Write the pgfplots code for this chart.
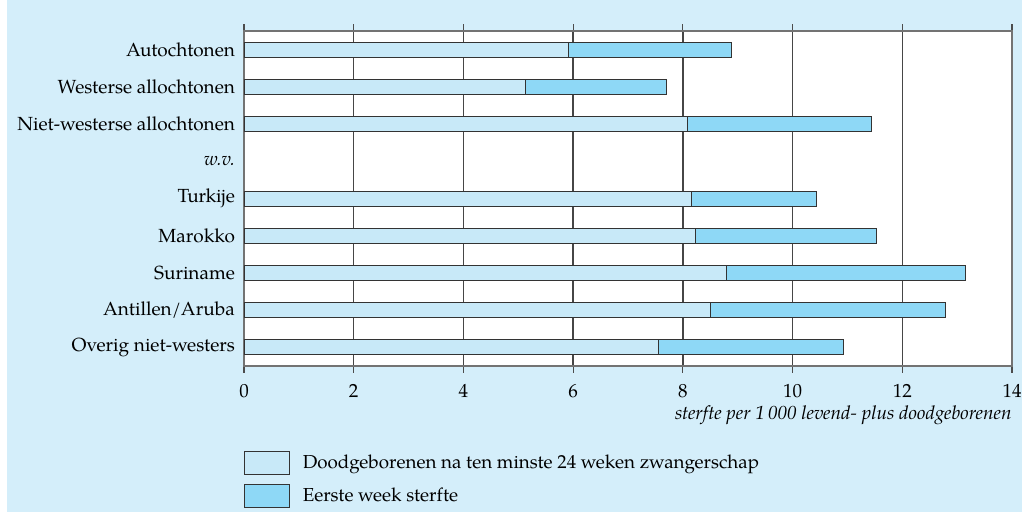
\documentclass[border=0pt]{standalone}
\usepackage{pgfplots}
\pgfplotsset{compat=1.18}
\usepackage{fontspec}
\setmainfont{TeX Gyre Pagella}
\definecolor{bg}{RGB}{212,238,250}
\definecolor{lightbar}{RGB}{200,233,248}
\definecolor{darkbar}{RGB}{142,216,246}
\definecolor{gridc}{RGB}{70,70,70}
\begin{document}
\begin{tikzpicture}[x=1pt,y=1pt]
\fill[white] (0,0) rectangle (511,256);
\fill[bg] (3.5,0) rectangle (511,256);
\useasboundingbox (0,0) rectangle (511,256);
\begin{axis}[
 at={(122pt,73pt)}, anchor=south west,
 scale only axis, width=384pt, height=167.5pt,
 xbar stacked, bar width=7.5pt,
 xmin=0, xmax=14, ymin=-0.5, ymax=8.5,
 xtick={0,2,...,14},
 ytick={0,...,8},
 yticklabels={Overig niet-westers, Antillen/Aruba, Suriname, Marokko, Turkije, \textit{w.v.}, Niet-westerse allochtonen, Westerse allochtonen, Autochtonen},
 axis background/.style={fill=white},
 xmajorgrids, major grid style={gridc, line width=0.7pt},
 axis line style={black!55, line width=0.6pt},
 tick align=outside, major tick length=3.5pt,
 xtick style={black!70, line width=0.6pt},
 ytick style={draw=none},
 tick label style={font=\fontsize{9.5}{11}\selectfont},
 /pgf/number format/assume math mode=true,
 xticklabel style={yshift=-2pt},
 yticklabel style={xshift=2.5pt},
 xlabel={\textit{sterfte per 1\,000 levend- plus doodgeborenen}},
 xlabel style={at={(axis description cs:1,-0.116)}, anchor=north east, inner sep=0pt, font=\fontsize{9.5}{11}\selectfont},
 legend style={at={(axis description cs:0,-0.252)}, anchor=north west, xshift=-0.3pt, draw=none, fill=none, font=\fontsize{9.4}{11}\selectfont, row sep=4pt, inner sep=0pt, /tikz/every odd column/.append style={column sep=4.5pt}},
 legend cell align=left,
 legend image code/.code={\draw[#1] (0pt,-5.875pt) rectangle (22.5pt,5.875pt);},
]
\addplot[fill=lightbar, draw=black!80, line width=0.5pt] coordinates {(7.55,0) (8.51,1) (8.80,2) (8.23,3) (8.16,4) (8.09,6) (5.14,7) (5.91,8)};
\addplot[fill=darkbar, draw=black!80, line width=0.5pt] coordinates {(3.38,0) (4.28,1) (4.35,2) (3.30,3) (2.28,4) (3.34,6) (2.57,7) (2.97,8)};
\legend{Doodgeborenen na ten minste 24 weken zwangerschap, Eerste week sterfte}
\end{axis}
\end{tikzpicture}
\end{document}
